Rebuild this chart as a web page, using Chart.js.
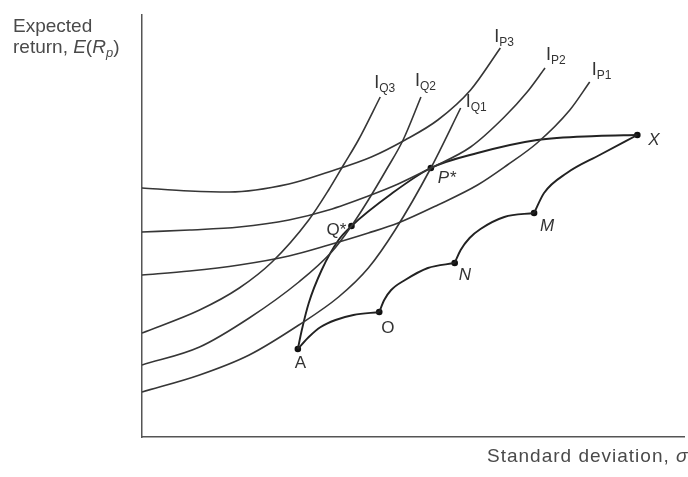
<!DOCTYPE html>
<html>
<head>
<meta charset="utf-8">
<script src="https://cdn.jsdelivr.net/npm/chart.js@4.4.1/dist/chart.umd.min.js"></script>
<style>
  html, body { margin: 0; padding: 0; background: #ffffff; }
  #wrap { width: 688px; height: 477px; position: relative; }
</style>
</head>
<body>
<div id="wrap"><canvas id="c"></canvas></div>
<script>
// ---- Data (sigma, expected return) ----
const ip3 = [[0,249],[48,246],[88,245],[148,253],[188,265],[231,280],[265,297],[298,317],[331,347],[361,389]];
const ip2 = [[0,205],[48,207],[98,210],[148,217],[188,227],[228,241],[258,253],[291,269],[331,290],[365,320],[388,345],[406,369]];
const ip1 = [[0,162],[48,166],[98,172],[148,181],[188,192],[228,204],[258,214],[298,232],[338,252],[368,272],[398,294],[431,327],[451,355]];
const iq3 = [[0,104],[58,127],[98,149],[131,175],[168,217],[188,247],[203,272],[218,297],[240,340]];
const iq2 = [[0,72],[58,90],[108,119],[158,155],[191,185],[211,211],[228,237],[246,267],[263,297],[281,340]];
const iq1 = [[0,45],[58,62],[108,82],[158,112],[198,140],[228,169],[255,207],[291,269],[321,329]];
const frontier = [[157,88],[161,107],[168,134],[181,167],[198,197],[211,211],[251,243],[291,269],[338,284],[398,297],[458,301],[499,302]];
const edgeAO = [[157,88],[168,100],[180,110],[195,117],[213,122],[239,125]];
const edgeON = [[239,125],[244,137],[251,147],[265,157],[288,169],[315,174]];
const edgeNM = [[315,174],[321,187],[330,199],[341,208],[365,220],[395,224]];
const edgeMX = [[395,224],[405,244],[428,264],[461,282],[499,302]];
const pointNames  = ['A','O','N','M','X','Q*','P*'];
const pointSigma  = [157, 239, 315, 395, 499, 211, 291];
const pointReturn = [88, 125, 174, 224, 302, 211, 269];
const curveLabels = ['P3','P2','P1','Q3','Q2','Q1'];

// ---- presentation ----
const toXY = arr => arr.map(p => ({x: p[0], y: p[1]}));
const curveColor = '#363636';
const curves = [ip3, ip2, ip1, iq3, iq2, iq1];
const labelOffsets = [[-6,-6],[1,-8],[2,-7],[-6,-9],[-6,-11],[5,-1]];
const pointLabelStyle = {
  'A':  {dx:-3, dy:19, align:'left', italic:false},
  'O':  {dx:2,  dy:21, align:'left', italic:false},
  'N':  {dx:4,  dy:17, align:'left', italic:true},
  'M':  {dx:6,  dy:18, align:'left', italic:true},
  'X':  {dx:11, dy:10, align:'left', italic:true},
  'Q*': {dx:-5, dy:9,  align:'right', italic:false},
  'P*': {dx:7,  dy:15, align:'left', italic:true}
};

const datasets = [];
curves.forEach((c, i) => datasets.push({
  label: 'I' + curveLabels[i], data: toXY(c), showLine: true,
  borderColor: curveColor, borderWidth: 1.6, pointRadius: 0,
  cubicInterpolationMode: 'monotone', fill: false
}));
[frontier, edgeAO, edgeON, edgeNM, edgeMX].forEach((c, i) => datasets.push({
  label: 'edge' + i, data: toXY(c), showLine: true,
  borderColor: '#222', borderWidth: 1.9, pointRadius: 0,
  cubicInterpolationMode: 'monotone', fill: false
}));
datasets.push({
  label: 'points', data: pointSigma.map((s, i) => ({x: s, y: pointReturn[i]})),
  showLine: false, pointRadius: 3.3, pointBackgroundColor: '#111', pointBorderWidth: 0
});

const FONT = '"Liberation Sans", Arial, Helvetica, sans-serif';

const annot = {
  id: 'annot',
  afterDatasetsDraw(chart) {
    const {ctx, scales: {x, y}} = chart;
    ctx.save();
    ctx.textBaseline = 'alphabetic';
    // curve labels
    ctx.fillStyle = '#333';
    curves.forEach((c, i) => {
      const end = c[c.length - 1];
      const px = x.getPixelForValue(end[0]) + labelOffsets[i][0];
      const py = y.getPixelForValue(end[1]) + labelOffsets[i][1];
      ctx.textAlign = 'left';
      ctx.font = '18px ' + FONT;
      ctx.fillText('I', px, py);
      ctx.font = '12px ' + FONT;
      ctx.fillText(curveLabels[i], px + 5, py + 4);
    });
    // point labels
    pointNames.forEach((n, i) => {
      const st = pointLabelStyle[n];
      const px = x.getPixelForValue(pointSigma[i]) + st.dx;
      const py = y.getPixelForValue(pointReturn[i]) + st.dy;
      ctx.textAlign = st.align;
      ctx.font = (st.italic ? 'italic ' : '') + '17px ' + FONT;
      ctx.fillText(n, px, py);
    });
    // axis titles
    ctx.fillStyle = '#4a4a4a';
    ctx.textAlign = 'left';
    ctx.font = '19px ' + FONT;
    ctx.fillText('Expected', 13, 32);
    let cx = 13;
    const seg = (t, f, dy) => { ctx.font = f; ctx.fillText(t, cx, 53 + (dy || 0)); cx += ctx.measureText(t).width; };
    seg('return, ', '19px ' + FONT);
    seg('E', 'italic 19px ' + FONT);
    seg('(', '19px ' + FONT);
    seg('R', 'italic 19px ' + FONT);
    seg('p', 'italic 13px ' + FONT, 4);
    seg(')', '19px ' + FONT);
    // x title
    if ('letterSpacing' in ctx) ctx.letterSpacing = '1px';
    ctx.font = '19px ' + FONT;
    const t1 = 'Standard deviation, ';
    ctx.fillText(t1, 487, 462);
    const w1 = ctx.measureText(t1).width;
    ctx.font = 'italic 19px ' + FONT;
    ctx.fillText('\u03C3', 487 + w1, 462);
    const w2 = ctx.measureText('\u03C3').width;
    ctx.font = 'italic 13px ' + FONT;
    ctx.fillText('p', 487 + w1 + w2, 466);
    ctx.restore();
  }
};

new Chart(document.getElementById('c'), {
  type: 'scatter',
  data: { datasets },
  options: {
    responsive: true, maintainAspectRatio: false, animation: false,
    layout: { padding: { left: 142, top: 15, right: 0, bottom: 40 } },
    plugins: { legend: { display: false }, tooltip: { enabled: false } },
    scales: {
      x: {
        type: 'linear', min: 0, max: 546,
        grid: { display: false }, ticks: { display: false },
        border: { display: true, color: '#555', width: 1.5 },
        afterFit: s => { s.height = 0; }
      },
      y: {
        type: 'linear', min: 0, max: 422,
        grid: { display: false }, ticks: { display: false },
        border: { display: true, color: '#555', width: 1.5 },
        afterFit: s => { s.width = 0; }
      }
    }
  },
  plugins: [annot]
});
</script>
</body>
</html>
